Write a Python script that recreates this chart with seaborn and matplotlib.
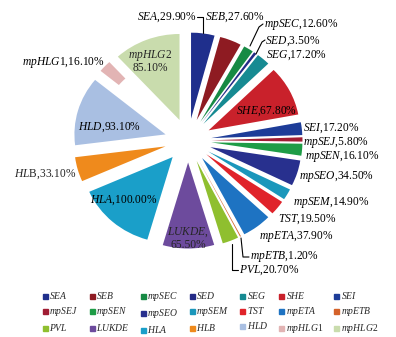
import numpy as np
import pandas as pd
import matplotlib
matplotlib.use("Agg")
import matplotlib.pyplot as plt
from matplotlib.lines import Line2D
import seaborn as sns

# ---------------- data ----------------
names = ["SEA", "SEB", "mpSEC", "SED", "SEG", "SHE", "SEI", "mpSEJ", "mpSEN",
         "mpSEO", "mpSEM", "TST", "mpETA", "mpETB", "PVL", "LUKDE", "HLA",
         "HLB", "HLD", "mpHLG1", "mpHLG2"]
values = [29.9, 27.6, 12.6, 3.5, 17.2, 67.8, 17.2, 5.8, 16.1,
          34.5, 14.9, 19.5, 37.9, 1.2, 20.7, 65.5, 100.0,
          33.1, 93.1, 16.1, 85.1]
colors = ["#1f2f8c", "#8e1b22", "#178a44", "#232a86", "#168a92", "#c9212b",
          "#1d3c98", "#a01d33", "#1e9c46", "#28308e", "#1b97bb", "#e0232a",
          "#1e73c2", "#d4622a", "#8fbf2f", "#6d4b9d", "#1a9fc9", "#ef8a1c",
          "#a9bfe2", "#e2b4b4", "#c9dcad"]

df = pd.DataFrame({"name": names, "value": values, "color": colors})

# ---------------- style ----------------
sns.set_theme(style="white")
plt.rcParams["font.family"] = ["Liberation Serif", "DejaVu Serif"]
plt.rcParams["mathtext.fontset"] = "custom"
plt.rcParams["mathtext.it"] = "Liberation Serif:italic"
plt.rcParams["mathtext.rm"] = "Liberation Serif"
plt.rcParams["mathtext.default"] = "it"

W, H = 396, 337
SX = 1.06  # horizontal stretch of the original picture
fig = plt.figure(figsize=(W / 100, H / 100), dpi=100)
fig.patch.set_facecolor("white")
ax = fig.add_axes([0, 0, 1, 1])


def P(x, y):
    """pixel position (top-left origin) -> data coords"""
    return x / SX, H - y


cx, cy = P(188, 140.5)
R = 86
EXPL = 22
wedges, _ = ax.pie(df["value"], colors=df["color"], startangle=90,
                   counterclock=False, radius=R, center=(cx, cy),
                   explode=[EXPL] * len(df),
                   wedgeprops=dict(linewidth=0))
# the mpHLG1 slice only shows its outer part in the original
wedges[names.index("mpHLG1")].set_width(R * 0.26)

ax.set_xlim(0, W / SX)
ax.set_ylim(0, H)
ax.set_aspect("auto")
ax.axis("off")

# ---------------- labels ----------------
def lab(n, v):
    return r"$\mathit{%s}$,%.2f%%" % (n, v)


val = dict(zip(names, values))
FS = 8.3
label_pos = {
    # name: (x, y, ha)
    "SEA": (197, 17, "right"),
    "SEB": (205, 17, "left"),
    "mpSEC": (264, 25, "left"),
    "SED": (265, 41, "left"),
    "SEG": (266, 55, "left"),
    "SHE": (236, 111, "left"),
    "SEI": (303, 128, "left"),
    "mpSEJ": (303, 142, "left"),
    "mpSEN": (305, 156, "left"),
    "mpSEO": (299, 176, "left"),
    "mpSEM": (293, 203, "left"),
    "TST": (278, 219, "left"),
    "mpETA": (259, 237, "left"),
    "mpETB": (250, 257, "left"),
    "PVL": (239, 270, "left"),
    "HLA": (90, 200, "left"),
    "HLD": (78, 127, "left"),
    "mpHLG1": (22, 62, "left"),
}
for n, (x, y, ha) in label_pos.items():
    ax.text(*P(x, y), lab(n, val[n]), ha=ha, va="center", fontsize=FS,
            color="black")

ax.text(*P(14, 174), r"$\mathit{HL}$B,%.2f%%" % val["HLB"], ha="left",
        va="center", fontsize=FS)
ax.text(*P(188, 238), r"$\mathit{LUKDE}$," + "\n" + "%.2f%%" % val["LUKDE"],
        ha="center", va="center", fontsize=FS, linespacing=0.95)
ax.text(*P(150, 61), r"$\mathit{mpHLG2}$" + "\n" + "%.2f%%" % val["mpHLG2"],
        ha="center", va="center", fontsize=FS, linespacing=0.95)

# leader lines
leaders = [
    [(197, 17), (203, 17), (203, 33)],
    [(263, 24), (259, 27), (250, 46)],
    [(265, 40), (262, 42), (256, 54)],
    [(249, 257), (243, 257), (241, 238)],
    [(238, 270), (232, 270), (232, 244)],
]
for pts in leaders:
    xs, ys = zip(*[P(*p) for p in pts])
    ax.plot(xs, ys, color="black", lw=0.8)

# ---------------- legend ----------------
handles = [Line2D([], [], marker="s", linestyle="none", markersize=3.6,
                  markerfacecolor=c, markeredgecolor=c) for c in colors]
texts = [r"$\mathit{%s}$" % n for n in names]
order = [r * 7 + c for c in range(7) for r in range(3)]
leg = fig.legend([handles[i] for i in order], [texts[i] for i in order],
                 ncol=7, loc="upper left", bbox_to_anchor=(42 / W, 1 - 290 / H),
                 frameon=False, fontsize=6.9, handlelength=0.6,
                 handletextpad=0.15, columnspacing=1.1, labelspacing=0.42,
                 borderpad=0, borderaxespad=0)

fig.savefig("out.png", dpi=100, facecolor="white")
